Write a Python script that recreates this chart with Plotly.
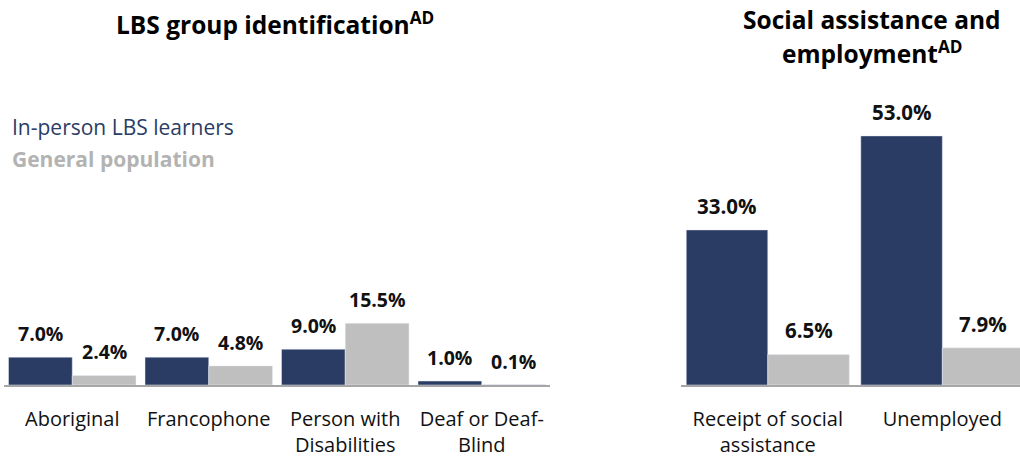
import plotly.graph_objects as go

# ---- data ----
left_categories = ["Aboriginal", "Francophone", "Person with Disabilities", "Deaf or Deaf-Blind"]
left_ticktext = ["Aboriginal", "Francophone", "Person with<br>Disabilities", "Deaf or Deaf-<br>Blind"]
left_learners = [7.0, 7.0, 9.0, 1.0]
left_general = [2.4, 4.8, 15.5, 0.1]

right_categories = ["Receipt of social assistance", "Unemployed"]
right_ticktext = ["Receipt of social<br>assistance", "Unemployed"]
right_learners = [33.0, 53.0]
right_general = [6.5, 7.9]

series_names = ["In-person LBS learners", "General population"]
left_title = "LBS group identification<sup>AD</sup>"
right_title_lines = ["Social assistance and", "employment<sup>AD</sup>"]

NAVY = "#2b3c64"
GRAY = "#bfbfbf"
FONT = "Open Sans"

fig = go.Figure()

fig.add_trace(go.Bar(x=left_categories, y=left_learners, marker_color=NAVY, name=series_names[0],
                     xaxis="x", yaxis="y", showlegend=False, hoverinfo="skip"))
fig.add_trace(go.Bar(x=left_categories, y=left_general, marker_color=GRAY, name=series_names[1],
                     xaxis="x", yaxis="y", showlegend=False, hoverinfo="skip"))
fig.add_trace(go.Bar(x=right_categories, y=right_learners, marker_color=NAVY, name=series_names[0],
                     xaxis="x2", yaxis="y2", showlegend=False, hoverinfo="skip"))
fig.add_trace(go.Bar(x=right_categories, y=right_general, marker_color=GRAY, name=series_names[1],
                     xaxis="x2", yaxis="y2", showlegend=False, hoverinfo="skip"))

W, H = 1020, 461
y_dom = [76 / H, (H - 100) / H]

annotations = []
def add_values(cats, vals, xref, yref, shift, size):
    for c, v in zip(cats, vals):
        annotations.append(dict(x=c, y=v, xref=xref, yref=yref, text=f"{v:.1f}%",
                                showarrow=False, xshift=shift, yanchor="bottom", yshift=8,
                                font=dict(family=FONT, size=size, color="#111111", weight="bold")))

add_values(left_categories, left_learners, "x", "y", -32, 19.5)
add_values(left_categories, left_general, "x", "y", 32, 19.5)
add_values(right_categories, right_learners, "x2", "y2", -41, 20.5)
add_values(right_categories, right_general, "x2", "y2", 41, 20.5)

title_font = dict(family=FONT, size=24.5, color="#000000", weight="bold")
annotations += [
    dict(x=275 / W, y=1 - 4 / H, xref="paper", yref="paper", text=left_title, showarrow=False,
         xanchor="center", yanchor="top", font=title_font),
    dict(x=872 / W, y=1 - 1 / H, xref="paper", yref="paper", text=right_title_lines[0], showarrow=False,
         xanchor="center", yanchor="top", font=title_font),
    dict(x=872 / W, y=1 - 33 / H, xref="paper", yref="paper", text=right_title_lines[1], showarrow=False,
         xanchor="center", yanchor="top", font=title_font),
    dict(x=10 / W, y=1 - 111 / H, xref="paper", yref="paper", text=series_names[0], showarrow=False,
         xanchor="left", yanchor="top", font=dict(family=FONT, size=21, color=NAVY)),
    dict(x=10 / W, y=1 - 143 / H, xref="paper", yref="paper", text=series_names[1], showarrow=False,
         xanchor="left", yanchor="top", font=dict(family=FONT, size=21, color="#b3b3b3", weight="bold")),
]

axis_common = dict(showline=True, linecolor="#a6a6a6", linewidth=2, showgrid=False, zeroline=False,
                   ticks="", tickfont=dict(family=FONT, size=20, color="#111111"), ticklabelstandoff=15,
                   fixedrange=True, automargin=False)

fig.update_layout(
    width=W, height=H,
    margin=dict(l=0, r=0, t=0, b=0),
    paper_bgcolor="white", plot_bgcolor="white",
    barmode="group", bargap=0.066, bargroupgap=0,
    xaxis=dict(domain=[4 / W, 550 / W], type="category", tickmode="array",
               tickvals=left_categories, ticktext=left_ticktext, range=[-0.5, 3.5], **axis_common),
    yaxis=dict(domain=y_dom, range=[0, 285 / 3.98], visible=False, fixedrange=True),
    xaxis2=dict(domain=[680.5 / W, 1.0], type="category", tickmode="array", anchor="y2",
                tickvals=right_categories, ticktext=right_ticktext, range=[-0.5, 1.445], **axis_common),
    yaxis2=dict(domain=y_dom, range=[0, 285 / 4.7], visible=False, anchor="x2", fixedrange=True),
    annotations=annotations,
    font=dict(family=FONT),
)

fig.write_html("out.html", config={"displayModeBar": False},
               post_script="document.body.style.margin='0';document.body.style.overflow='hidden';")
